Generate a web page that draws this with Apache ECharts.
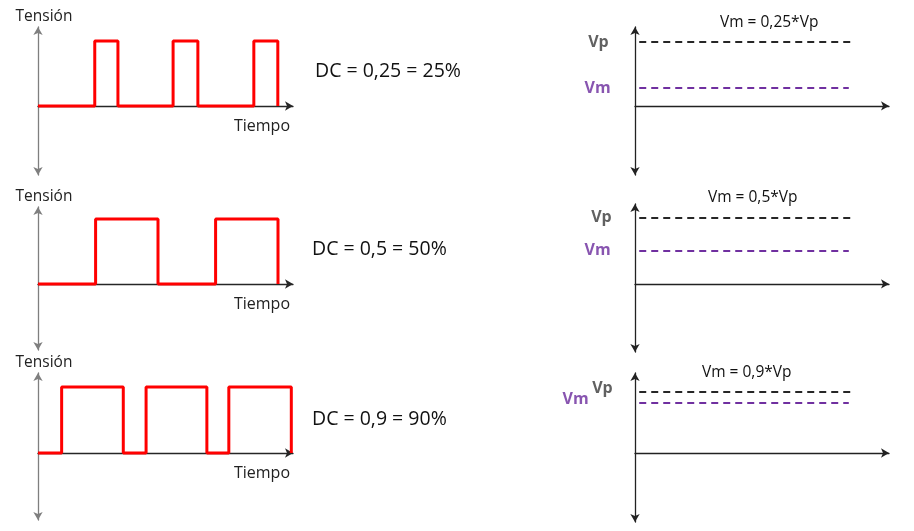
<!DOCTYPE html>
<html>
<head>
<meta charset="utf-8">
<script src="https://cdn.jsdelivr.net/npm/echarts@6/dist/echarts.min.js"></script>
<style>
  html, body { margin: 0; padding: 0; background: #fff; }
  #chart { width: 914px; height: 531px; }
</style>
</head>
<body>
<div id="chart"></div>
<script>
// values (time in periods, voltage in units of Vp)
var dutyLabels = ['DC = 0,25 = 25%', 'DC = 0,5 = 50%', 'DC = 0,9 = 90%'];
var meanLabels = ['Vm = 0,25*Vp', 'Vm = 0,5*Vp', 'Vm = 0,9*Vp'];
var edges25 = [0.71, 1, 1.69, 2, 2.7, 3];
var edges50 = [0.48, 1, 1.48, 2];
var edges90 = [0.28, 1.01, 1.28, 2, 2.26, 3];
var vpLevel = [1, 1, 1];
var vmLevel = [0.28, 0.5, 0.82];
var dashSpan = [0.02, 1.02];

function toWave(edges) {
  var level = 0;
  var pts = [[0, 0]];
  edges.forEach(function (t) {
    pts.push([t, level]);
    level = 1 - level;
    pts.push([t, level]);
  });
  return pts;
}

var waves = [toWave(edges25), toWave(edges50), toWave(edges90)];

var fontFam = 'Open Sans';
var red = '#ff0000';
var purple = '#7030a0';
var dark = '#262626';

// panel geometry
var leftPanels = [
  { top: 27, height: 148, ymin: -1.062, ymax: 1.215, xmax: 3.19 },
  { top: 207, height: 143, ymin: -1.015, ymax: 1.185, xmax: 2.125 },
  { top: 373, height: 147, ymin: -1.015, ymax: 1.212, xmax: 3.02 }
];
var rightPanels = [
  { top: 27, height: 148, ymin: -1.08, ymax: 1.234 },
  { top: 204, height: 148, ymin: -1.03, ymax: 1.21 },
  { top: 373, height: 149, ymin: -1.13, ymax: 1.31 }
];
var vpLabelPos = [
  { distance: 30, offset: [0, 0] },
  { distance: 27, offset: [0, 0] },
  { distance: 26, offset: [0, -3] }
];
var vmLabelPos = [
  { distance: 28, offset: [0, 0] },
  { distance: 28, offset: [0, 0] },
  { distance: 50, offset: [0, -3] }
];

var grids = [], xAxes = [], yAxes = [], series = [];

function axisLine(color, sym) {
  return {
    show: true,
    onZero: true,
    symbol: sym,
    symbolSize: [7, 8],
    lineStyle: { color: color, width: 1.3 }
  };
}

leftPanels.forEach(function (p, i) {
  grids.push({ left: 38, top: p.top, width: 255, height: p.height });
  xAxes.push({
    type: 'value', gridIndex: i, min: 0, max: p.xmax,
    axisLine: axisLine(dark, ['none', 'arrow']),
    axisTick: { show: false }, axisLabel: { show: false }, splitLine: { show: false },
    name: 'Tiempo', nameLocation: 'end', nameGap: -3,
    nameTextStyle: { fontFamily: fontFam, fontSize: 16, color: '#222', align: 'right', verticalAlign: 'top', padding: [12, 0, 0, 0] }
  });
  yAxes.push({
    type: 'value', gridIndex: i, min: p.ymin, max: p.ymax,
    axisLine: axisLine('#7f7f7f', ['arrow', 'arrow']),
    axisTick: { show: false }, axisLabel: { show: false }, splitLine: { show: false },
    name: 'Tensión', nameLocation: 'end', nameGap: 2,
    nameTextStyle: { fontFamily: fontFam, fontSize: 15.5, color: '#222', padding: [0, 0, 0, 12] }
  });
  series.push({
    type: 'line', xAxisIndex: i, yAxisIndex: i,
    data: waves[i], showSymbol: false, clip: false,
    lineStyle: { color: red, width: 3 }
  });
});

rightPanels.forEach(function (p, k) {
  var i = k + 3;
  grids.push({ left: 635, top: p.top, width: 254, height: p.height });
  xAxes.push({
    type: 'value', gridIndex: i, min: 0, max: 1.2,
    axisLine: axisLine('#222', ['none', 'arrow']),
    axisTick: { show: false }, axisLabel: { show: false }, splitLine: { show: false }
  });
  yAxes.push({
    type: 'value', gridIndex: i, min: p.ymin, max: p.ymax,
    axisLine: axisLine('#222', ['arrow', 'arrow']),
    axisTick: { show: false }, axisLabel: { show: false }, splitLine: { show: false }
  });
  series.push({
    type: 'line', xAxisIndex: i, yAxisIndex: i, showSymbol: false,
    data: [[dashSpan[0], vpLevel[k]], [dashSpan[1], vpLevel[k]]],
    lineStyle: { color: dark, width: 2, type: [7, 5] }
  });
  series.push({
    type: 'line', xAxisIndex: i, yAxisIndex: i, showSymbol: false,
    data: [[dashSpan[0], vmLevel[k]], [dashSpan[1] - 0.01, vmLevel[k]]],
    lineStyle: { color: purple, width: 2, type: [7, 5] }
  });
  // level names on the left of the axis
  series.push({
    type: 'scatter', xAxisIndex: i, yAxisIndex: i, symbolSize: 1,
    itemStyle: { color: 'rgba(0,0,0,0)' },
    data: [
      { value: [dashSpan[0], vpLevel[k]], label: { show: true, formatter: 'Vp', position: 'left', distance: vpLabelPos[k].distance, offset: vpLabelPos[k].offset, color: '#3a3a3a', fontFamily: fontFam, fontWeight: 'bold', fontSize: 16 } },
      { value: [dashSpan[0], vmLevel[k]], label: { show: true, formatter: 'Vm', position: 'left', distance: vmLabelPos[k].distance, offset: vmLabelPos[k].offset, color: '#6a2a9c', fontFamily: fontFam, fontWeight: 'bold', fontSize: 16 } }
    ]
  });
});

var titles = [
  { text: dutyLabels[0], left: 315, top: 61 },
  { text: dutyLabels[1], left: 312, top: 239 },
  { text: dutyLabels[2], left: 312, top: 409 }
].map(function (t) {
  t.padding = 0;
  t.textStyle = { fontFamily: fontFam, fontSize: 19.5, fontWeight: 'normal', color: '#111' };
  return t;
}).concat([
  { text: meanLabels[0], left: 720, top: 15 },
  { text: meanLabels[1], left: 708, top: 190 },
  { text: meanLabels[2], left: 702, top: 365 }
].map(function (t) {
  t.padding = 0;
  t.textStyle = { fontFamily: fontFam, fontSize: 15.5, fontWeight: 'normal', color: '#111' };
  return t;
}));

var myChart = echarts.init(document.getElementById('chart'));
myChart.setOption({
  animation: false,
  title: titles,
  grid: grids,
  xAxis: xAxes,
  yAxis: yAxes,
  series: series
});
</script>
</body>
</html>
